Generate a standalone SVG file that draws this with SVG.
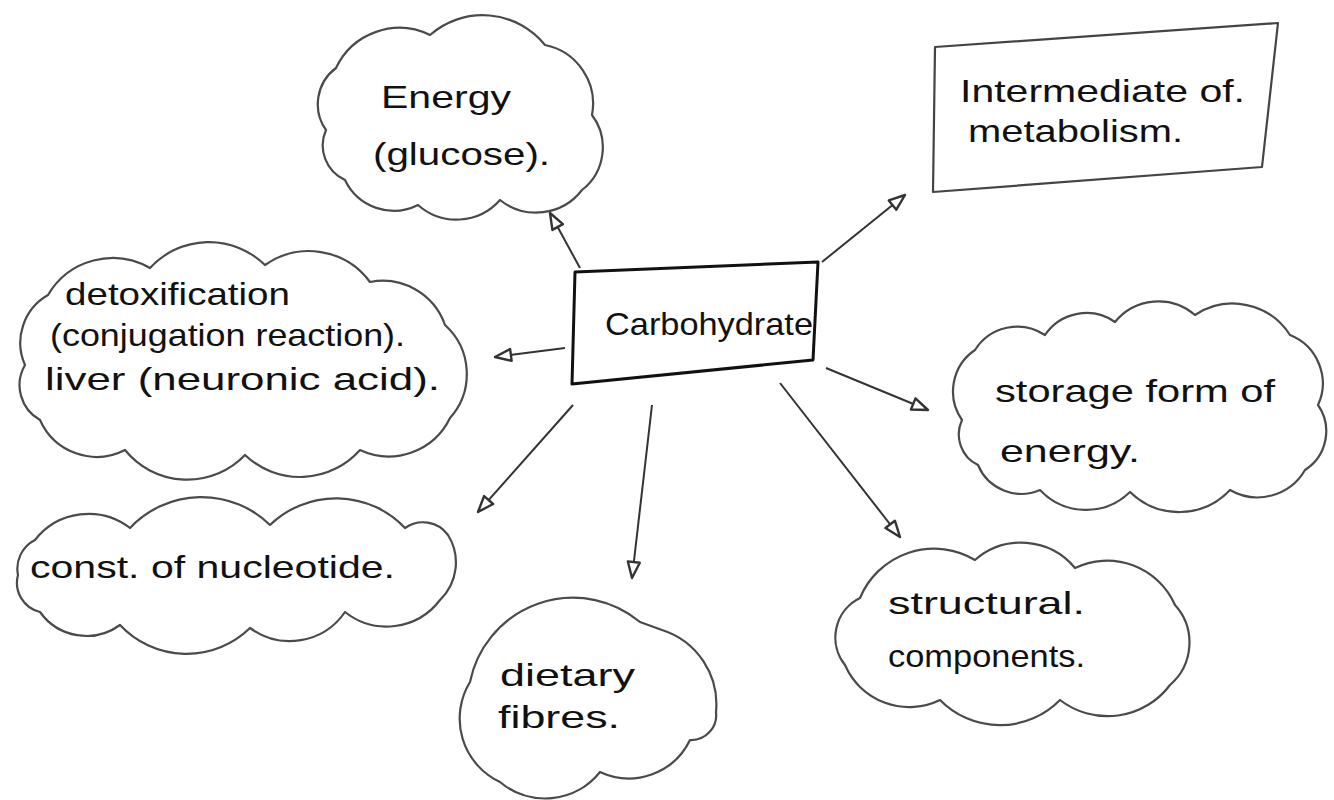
<svg xmlns="http://www.w3.org/2000/svg" width="1334" height="800" viewBox="0 0 1334 800">
<defs>
<style>
.cloud{fill:none;stroke:#4a4a4a;stroke-width:2.2;stroke-linejoin:round;stroke-linecap:round}
.box{fill:none;stroke:#111;stroke-width:3;stroke-linejoin:round}
.box2{fill:none;stroke:#444;stroke-width:2.2;stroke-linejoin:round}
.conn{fill:none;stroke:#333;stroke-width:2;marker-end:url(#head)}
.t{font-family:"Liberation Sans",Arial,sans-serif;fill:#111;font-size:32px}
</style>
<marker id="head" markerUnits="userSpaceOnUse" markerWidth="20" markerHeight="16" viewBox="0 0 20 16" refX="18" refY="8" orient="auto">
<path d="M2,2 L18,8 L2,14 Z" fill="#fff" stroke="#333" stroke-width="2.4" stroke-linejoin="round"/>
</marker>
</defs>
<rect width="1334" height="800" fill="#fff"/>

<g id="connectors">
<line class="conn" x1="580" y1="268" x2="550" y2="213"/>
<line class="conn" x1="822" y1="262" x2="905" y2="195"/>
<line class="conn" x1="565" y1="348" x2="495" y2="357"/>
<line class="conn" x1="826" y1="368" x2="928" y2="410"/>
<line class="conn" x1="573" y1="405" x2="478" y2="512"/>
<line class="conn" x1="652" y1="405" x2="632" y2="578"/>
<line class="conn" x1="780" y1="383" x2="900" y2="537"/>
</g>

<g id="carbohydrate">
<path class="box" d="M575,272 L818,262 L813,360 L572,384 Z"/>
<text class="t" x="605" y="335" font-size="36" textLength="208" lengthAdjust="spacingAndGlyphs">Carbohydrate</text>
</g>

<g id="energy">
<path class="cloud" d="M326,130 A45,45 0 0 1 336,68 A70,70 0 0 1 430,35 A80,80 0 0 1 545,45 A60,60 0 0 1 592,115 A54,54 0 0 1 582,190 A58,58 0 0 1 500,200 A58,58 0 0 1 418,205 A54,54 0 0 1 345,180 A38,38 0 0 1 326,130 Z"/>
<text class="t" x="381" y="108" font-size="40" textLength="130" lengthAdjust="spacingAndGlyphs">Energy</text>
<text class="t" x="373" y="165" font-size="36" textLength="177" lengthAdjust="spacingAndGlyphs">(glucose).</text>
</g>

<g id="intermediate">
<path class="box2" d="M935,47 L1278,23 L1262,167 L933,192 Z"/>
<text class="t" x="960" y="102" textLength="285" lengthAdjust="spacingAndGlyphs">Intermediate of.</text>
<text class="t" x="968" y="142" textLength="215" lengthAdjust="spacingAndGlyphs">metabolism.</text>
</g>

<g id="detoxification">
<path class="cloud" d="M25,365 A55,55 0 0 1 48,295 A75,75 0 0 1 150,268 A80,80 0 0 1 265,265 A76,76 0 0 1 370,282 A66,66 0 0 1 445,325 A66,66 0 0 1 450,418 A68,68 0 0 1 360,450 A80,80 0 0 1 245,455 A80,80 0 0 1 125,450 A62,62 0 0 1 40,420 A40,40 0 0 1 25,365 Z"/>
<text class="t" x="65" y="305" font-size="31" textLength="225" lengthAdjust="spacingAndGlyphs">detoxification</text>
<text class="t" x="50" y="346" font-size="31" textLength="355" lengthAdjust="spacingAndGlyphs">(conjugation reaction).</text>
<text class="t" x="45" y="390" font-size="31" textLength="395" lengthAdjust="spacingAndGlyphs">liver (neuronic acid).</text>
</g>

<g id="storage">
<path class="cloud" d="M962,420 A50,50 0 0 1 975,350 A50,50 0 0 1 1045,335 A50,50 0 0 1 1115,322 A56,56 0 0 1 1195,315 A68,68 0 0 1 1290,335 A52,52 0 0 1 1318,405 A46,46 0 0 1 1305,470 A55,55 0 0 1 1230,490 A70,70 0 0 1 1130,492 A63,63 0 0 1 1040,490 A47,47 0 0 1 978,465 A34,34 0 0 1 962,420 Z"/>
<text class="t" x="995" y="402" font-size="34" textLength="280" lengthAdjust="spacingAndGlyphs">storage form of</text>
<text class="t" x="1000" y="462" font-size="34" textLength="140" lengthAdjust="spacingAndGlyphs">energy.</text>
</g>

<g id="nucleotide">
<path class="cloud" d="M18,575 A32,32 0 0 1 35,540 A68,68 0 0 1 130,528 A98,98 0 0 1 270,525 A95,95 0 0 1 405,528 A31,31 0 0 1 448,535 A52,52 0 0 1 440,600 A67,67 0 0 1 345,612 A67,67 0 0 1 250,628 A91,91 0 0 1 120,625 A57,57 0 0 1 40,612 A30,30 0 0 1 18,575 Z"/>
<text class="t" x="30" y="578" font-size="31" textLength="365" lengthAdjust="spacingAndGlyphs">const. of nucleotide.</text>
</g>

<g id="dietary">
<path class="cloud" d="M470,682 A105,105 0 0 1 640,622 L662,630 A78,78 0 0 1 716,712 A25,25 0 0 1 690,740 A68,68 0 0 1 600,772 A70,70 0 0 1 500,782 A70,70 0 0 1 470,682 Z"/>
<text class="t" x="500" y="686" font-size="34" textLength="135" lengthAdjust="spacingAndGlyphs">dietary</text>
<text class="t" x="498" y="728" font-size="34" textLength="122" lengthAdjust="spacingAndGlyphs">fibres.</text>
</g>

<g id="structural">
<path class="cloud" d="M845,665 A44,44 0 0 1 860,598 A80,80 0 0 1 975,560 A70,70 0 0 1 1075,568 A74,74 0 0 1 1175,605 A56,56 0 0 1 1170,685 A78,78 0 0 1 1060,700 A84,84 0 0 1 940,700 A70,70 0 0 1 845,665 Z"/>
<text class="t" x="888" y="614" font-size="32" textLength="197" lengthAdjust="spacingAndGlyphs">structural.</text>
<text class="t" x="888" y="667" font-size="32" textLength="197" lengthAdjust="spacingAndGlyphs">components.</text>
</g>
</svg>
